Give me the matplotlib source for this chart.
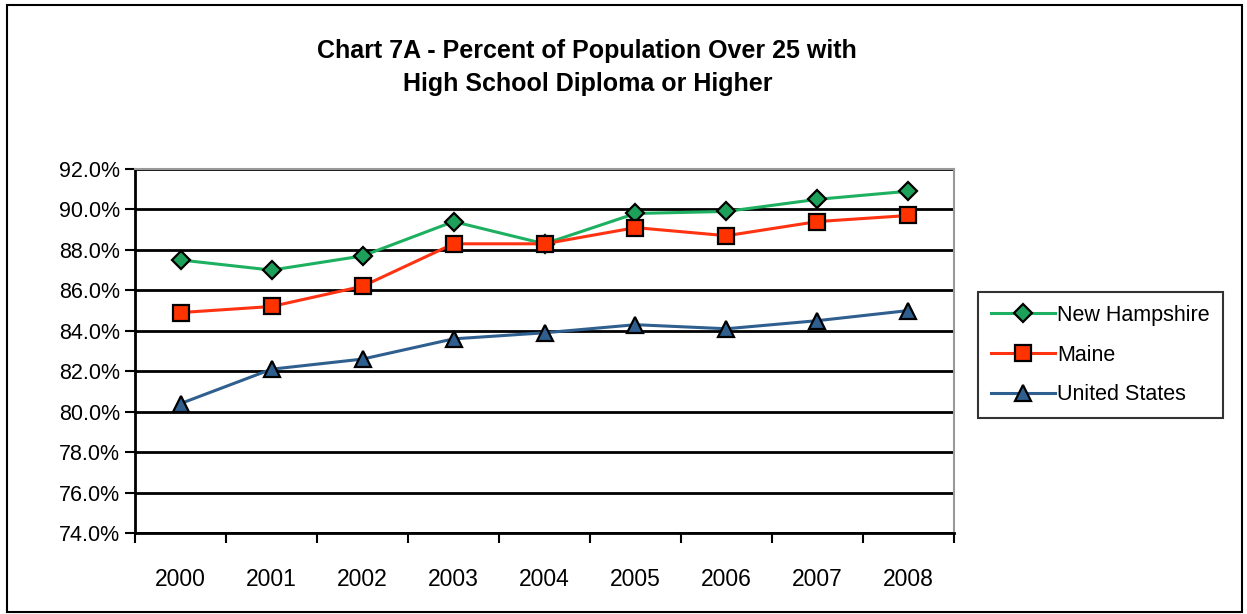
import matplotlib.pyplot as plt
from matplotlib.patches import Rectangle
from matplotlib.ticker import FuncFormatter, FixedLocator

plt.rcParams['font.family'] = ['Liberation Sans', 'DejaVu Sans']

years = ['2000', '2001', '2002', '2003', '2004', '2005', '2006', '2007', '2008']
new_hampshire = [87.5, 87.0, 87.7, 89.4, 88.3, 89.8, 89.9, 90.5, 90.9]
maine = [84.9, 85.2, 86.2, 88.3, 88.3, 89.1, 88.7, 89.4, 89.7]
united_states = [80.4, 82.1, 82.6, 83.6, 83.9, 84.3, 84.1, 84.5, 85.0]

fig = plt.figure(figsize=(12.47, 6.14), dpi=100)
fig.patches.append(Rectangle((0.006, 0.003), 0.99, 0.989, transform=fig.transFigure,
                             fill=False, edgecolor='black', linewidth=1.5))

ax = fig.add_axes([0.1083, 0.1319, 0.6567, 0.5929])
x = list(range(len(years)))

ax.plot(x, new_hampshire, color='#1DB060', lw=2.2, marker='D', ms=9,
        mfc='#1DA05A', mec='black', mew=1.6, label='New Hampshire', zorder=3)
ax.plot(x, maine, color='#FF3311', lw=2.2, marker='s', ms=12,
        mfc='#FF3300', mec='black', mew=1.6, label='Maine', zorder=3)
ax.plot(x, united_states, color='#2F5F8F', lw=2.2, marker='^', ms=12,
        mfc='#2F5F8F', mec='black', mew=1.6, label='United States', zorder=3)

ax.set_xlim(-0.5, len(years) - 0.5)
ax.set_ylim(74, 92)
ax.set_yticks([74 + 2 * i for i in range(10)])
ax.yaxis.set_major_formatter(FuncFormatter(lambda v, p: '%.1f%%' % v))
ax.set_xticks(x)
ax.set_xticklabels(years)
ax.xaxis.set_minor_locator(FixedLocator([i - 0.5 for i in range(len(years) + 1)]))
ax.tick_params(axis='x', which='major', length=0, pad=25, labelsize=16.5)
ax.tick_params(axis='x', which='minor', length=7, width=1.5, direction='out')
ax.tick_params(axis='y', length=7, width=1.5, direction='out', labelsize=15.5, pad=4)

ax.grid(axis='y', color='black', lw=2)
ax.set_axisbelow(True)
for s in ['top', 'right']:
    ax.spines[s].set_color('#999999')
    ax.spines[s].set_linewidth(1.5)
for s in ['left', 'bottom']:
    ax.spines[s].set_color('black')
    ax.spines[s].set_linewidth(2)

fig.text(0.471, 0.890, 'Chart 7A - Percent of Population Over 25 with\nHigh School Diploma or Higher',
         ha='center', va='center', fontsize=18, fontweight='bold', linespacing=1.45)

leg = fig.legend(loc='upper left', bbox_to_anchor=(0.784, 0.525), fontsize=15.5,
                 frameon=True, fancybox=False, edgecolor='black', borderpad=0.6,
                 handlelength=3.0, handletextpad=0.1, labelspacing=0.88, borderaxespad=0)
leg.get_frame().set_linewidth(1.5)

fig.savefig('out.png', dpi=100)
